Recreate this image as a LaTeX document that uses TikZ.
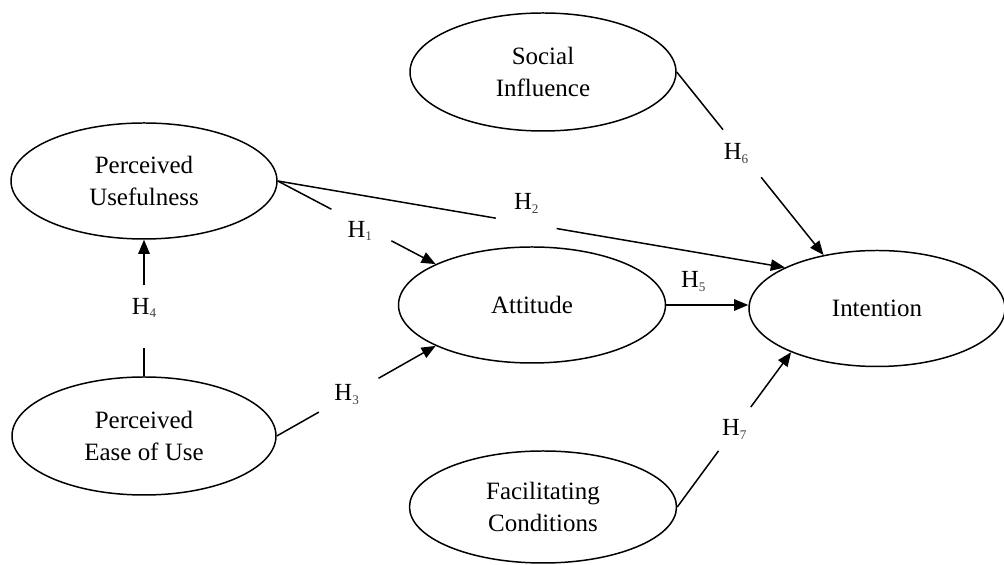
\documentclass[tikz,border=0pt]{standalone}
\usepackage{fontspec}
\setmainfont{Liberation Serif}
\usetikzlibrary{shapes.geometric,arrows.meta}
\newcommand{\hyp}[1]{H{\fontsize{7.5}{8}\selectfont\raisebox{-2pt}{\color{black!75}#1}}}
\tikzset{
  construct/.style={ellipse, draw, line width=0.85pt, inner sep=0pt, align=center,
    font=\fontsize{14.2}{18}\selectfont},
  lbl/.style={inner sep=0pt, font=\fontsize{14}{16}\selectfont},
  link/.style={line width=0.85pt},
  arr/.style={line width=0.85pt, -{Triangle[length=8pt,width=6.5pt]}}
}
\begin{document}
\begin{tikzpicture}
\useasboundingbox (0,0) rectangle (20.08,-11.3);
% constructs
\node[construct, minimum width=5.32cm, minimum height=2.36cm] (si) at (10.86,-1.44) {Social\\Influence};
\node[construct, minimum width=5.32cm, minimum height=2.32cm] (pu) at (2.88,-3.62) {Perceived\\Usefulness};
\node[construct, minimum width=5.34cm, minimum height=2.32cm] (att) at (10.64,-6.10) {Attitude};
\node[construct, minimum width=5.12cm, minimum height=2.32cm] (int) at (17.54,-6.17) {Intention};
\node[construct, minimum width=5.28cm, minimum height=2.36cm] (peou) at (2.88,-8.72) {Perceived\\Ease of Use};
\node[construct, minimum width=5.34cm, minimum height=2.24cm] (fc) at (10.86,-10.14) {Facilitating\\Conditions};
% H1
\path (pu.east) -- (att.157) coordinate[pos=0.34] (h1s) coordinate[pos=0.72] (h1e)
  node[lbl, pos=0.52, yshift=-0.13cm] (l1) {\hyp{1}};
\draw[link] (pu.east) -- (h1s);
\draw[arr] (h1e) -- (att.157);
% H2
\path (pu.east) -- (int.156) coordinate[pos=0.43] (h2s) coordinate[pos=0.55] (h2e)
  node[lbl, pos=0.49, yshift=0.4cm] (l2) {\hyp{2}};
\draw[link] (pu.east) -- (h2s);
\draw[arr] (h2e) -- (int.156);
% H3
\path (peou.east) -- (att.203) coordinate[pos=0.265] (h3s) coordinate[pos=0.64] (h3e)
  node[lbl, pos=0.44, yshift=0.04cm] (l3) {\hyp{3}};
\draw[link] (peou.east) -- (h3s);
\draw[arr] (h3e) -- (att.203);
% H4
\path (peou.north) -- (pu.south) coordinate[pos=0.21] (h4s) coordinate[pos=0.665] (h4e)
  node[lbl, pos=0.5] (l4) {\hyp{4}};
\draw[link] (peou.north) -- (h4s);
\draw[arr] (h4e) -- (pu.south);
% H5
\draw[arr] (att.east) -- (att.east -| int.west)
  node[lbl, pos=0.33, yshift=0.47cm] (l5) {\hyp{5}};
% H6
\path (si.east) -- (int.135) coordinate[pos=0.315] (h6s) coordinate[pos=0.575] (h6e)
  node[lbl, pos=0.445, xshift=-0.12cm] (l6) {\hyp{6}};
\draw[link] (si.east) -- (h6s);
\draw[arr] (h6e) -- (int.135);
% H7
\path (fc.east) -- (int.207) coordinate[pos=0.363] (h7s) coordinate[pos=0.646] (h7e)
  node[lbl, pos=0.5] (l7) {\hyp{7}};
\draw[link] (fc.east) -- (h7s);
\draw[arr] (h7e) -- (int.207);
\end{tikzpicture}
\end{document}
